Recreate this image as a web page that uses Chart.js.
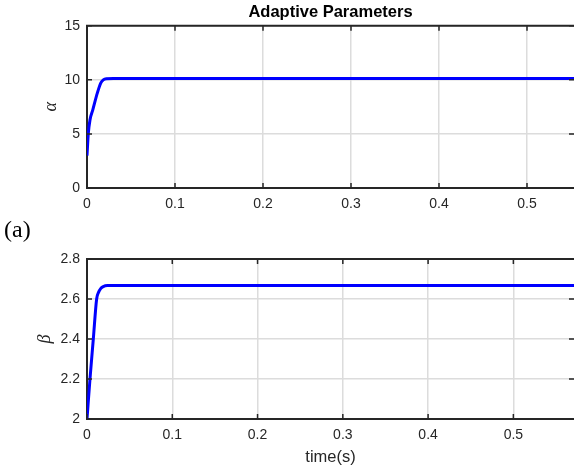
<!DOCTYPE html>
<html lang="en">
<head>
<meta charset="UTF-8">
<title>Adaptive Parameters</title>
<script src="https://cdn.jsdelivr.net/npm/chart.js"></script>
<style>
    body { margin: 0; background: #fff; }
    .panel { position: absolute; left: 0; width: 574px; }
    #tag { position: absolute; left: 4px; top: 217px; font: 24px "Liberation Serif", "Times New Roman", serif; line-height: 24px; color: #000; }
</style>
</head>
<body>
<div class="panel" style="top:0; height:230px;"><canvas id="alphaChart"></canvas></div>
<div class="panel" style="top:240px; height:229px;"><canvas id="betaChart"></canvas></div>
<div id="tag">(a)</div>

<script>
// alpha(t)
const alphaTime = [0, 0.0015, 0.0034, 0.0065, 0.0117, 0.0156, 0.0185, 0.022, 0.03, 0.6];
const alphaVals = [3, 5.05, 6.3, 7.2, 8.77, 9.7, 10.0, 10.1, 10.12, 10.12];

// beta(t)
const betaTime = [0, 0.0035, 0.0074, 0.0113, 0.0135, 0.016, 0.019, 0.024, 0.03, 0.6];
const betaVals = [2, 2.2, 2.4, 2.6, 2.633, 2.652, 2.662, 2.667, 2.667, 2.667];

const timeTicks = [0, 0.1, 0.2, 0.3, 0.4, 0.5];
const alphaTicks = [0, 5, 10, 15];
const betaTicks = [2, 2.2, 2.4, 2.6, 2.8];

const axisColor = '#262626';
const gridColor = '#dcdcdc';
const tickFont = { family: 'Liberation Sans, Arial, sans-serif', size: 14 };

// top edge of the box and the inward tick marks, matlab style
const boxTicks = {
    id: 'boxTicks',
    afterDatasetsDraw(chart) {
        const { ctx, chartArea: a, scales: { x, y } } = chart;
        ctx.save();
        ctx.strokeStyle = axisColor;
        ctx.lineWidth = 2;
        ctx.beginPath();
        ctx.moveTo(a.left - 1, a.top);
        ctx.lineTo(a.right, a.top);
        ctx.stroke();
        ctx.lineWidth = 1.5;
        ctx.beginPath();
        x.ticks.forEach(t => {
            const px = x.getPixelForValue(t.value);
            ctx.moveTo(px, a.bottom); ctx.lineTo(px, a.bottom - 5);
            ctx.moveTo(px, a.top); ctx.lineTo(px, a.top + 5);
        });
        y.ticks.forEach(t => {
            const py = y.getPixelForValue(t.value);
            ctx.moveTo(a.left, py); ctx.lineTo(a.left + 5, py);
            ctx.moveTo(a.right, py); ctx.lineTo(a.right - 5, py);
        });
        ctx.stroke();
        ctx.restore();
    }
};

function makeChart(id, times, vals, opts) {
    const points = times.map((t, i) => ({ x: t, y: vals[i] }));
    return new Chart(document.getElementById(id), {
        type: 'line',
        data: {
            datasets: [{
                data: points,
                borderColor: '#0000ff',
                borderWidth: 3,
                pointRadius: 0,
                cubicInterpolationMode: 'monotone'
            }]
        },
        options: {
            responsive: true,
            maintainAspectRatio: false,
            animation: false,
            events: [],
            layout: { padding: { left: 0, right: 0, top: opts.padTop, bottom: 0 } },
            plugins: {
                legend: { display: false },
                tooltip: { enabled: false },
                title: opts.title ? {
                    display: true,
                    text: opts.title,
                    fullSize: false,
                    color: '#000',
                    font: { family: 'Liberation Sans, Arial, sans-serif', size: 16.5, weight: 'bold' },
                    padding: { top: 3, bottom: 3 }
                } : { display: false }
            },
            scales: {
                x: {
                    type: 'linear',
                    min: 0,
                    max: opts.xMax,
                    afterBuildTicks: s => { s.ticks = timeTicks.map(v => ({ value: v })); },
                    afterFit: s => { s.height = opts.xHeight; },
                    ticks: {
                        color: axisColor,
                        font: tickFont,
                        padding: 8,
                        maxRotation: 0,
                        callback: v => String(+v.toFixed(2))
                    },
                    grid: { color: gridColor, lineWidth: 1.5, drawTicks: false },
                    border: { color: axisColor, width: 2 },
                    title: opts.xTitle ? {
                        display: true,
                        text: opts.xTitle,
                        color: axisColor,
                        font: { family: 'Liberation Sans, Arial, sans-serif', size: 16.5 },
                        padding: { top: 0, bottom: 2 }
                    } : { display: false }
                },
                y: {
                    type: 'linear',
                    min: opts.yTicks[0],
                    max: opts.yTicks[opts.yTicks.length - 1],
                    afterBuildTicks: s => { s.ticks = opts.yTicks.map(v => ({ value: v })); },
                    afterFit: s => { s.width = 87; },
                    ticks: {
                        color: axisColor,
                        font: tickFont,
                        padding: 7,
                        callback: v => String(+v.toFixed(2))
                    },
                    grid: { color: gridColor, lineWidth: 1.5, drawTicks: false },
                    border: { color: axisColor, width: 2 },
                    title: {
                        display: true,
                        text: opts.yTitle,
                        color: axisColor,
                        font: { family: 'Liberation Serif, Times New Roman, serif', size: 18, style: 'italic' },
                        padding: { top: opts.yTitlePad, bottom: 0 }
                    }
                }
            }
        },
        plugins: [boxTicks]
    });
}

makeChart('alphaChart', alphaTime, alphaVals, {
    title: 'Adaptive Parameters',
    padTop: 0,
    xMax: 0.5534,
    xHeight: 42,
    yTicks: alphaTicks,
    yTitle: 'α',
    yTitlePad: 40
});

makeChart('betaChart', betaTime, betaVals, {
    padTop: 19,
    xMax: 0.5711,
    xHeight: 50,
    xTitle: 'time(s)',
    yTicks: betaTicks,
    yTitle: 'β',
    yTitlePad: 34
});
</script>
</body>
</html>
